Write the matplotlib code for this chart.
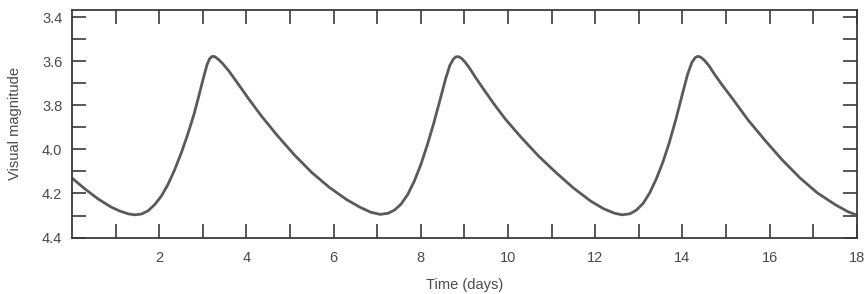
import matplotlib
matplotlib.use('Agg')
import matplotlib.pyplot as plt
import numpy as np

plt.rcParams['font.family'] = ['Liberation Sans', 'DejaVu Sans']

# light curve (time in days, visual magnitude)
days = [0.0, 0.3, 0.6, 0.9, 1.1, 1.3, 1.45, 1.6, 1.75, 1.9, 2.05, 2.2, 2.35, 2.5,
        2.65, 2.8, 2.92, 3.02, 3.1, 3.16, 3.22, 3.28, 3.36, 3.46, 3.6, 3.8,
        4.05, 4.35, 4.7, 5.1, 5.5, 5.9, 6.3, 6.6, 6.85, 7.07,
        7.25, 7.4, 7.55, 7.7, 7.85, 8.0, 8.15, 8.3, 8.45, 8.57, 8.67, 8.75, 8.81,
        8.87, 8.94, 9.02, 9.12, 9.26, 9.45, 9.7, 9.95, 10.3, 10.7, 11.1, 11.5,
        11.9, 12.2, 12.45, 12.62,
        12.8, 12.95, 13.1, 13.25, 13.4, 13.55, 13.7, 13.85, 14.0, 14.12, 14.22,
        14.3, 14.36, 14.42, 14.5, 14.6, 14.74, 14.92, 15.15, 15.5, 15.9, 16.3,
        16.7, 17.1, 17.5, 17.8, 18.0]
mag = [4.13, 4.18, 4.225, 4.262, 4.28, 4.293, 4.297, 4.293, 4.278, 4.25, 4.212, 4.16, 4.095, 4.02,
       3.935, 3.84, 3.75, 3.672, 3.615, 3.588, 3.578, 3.58, 3.592, 3.612, 3.645, 3.7,
       3.77, 3.85, 3.935, 4.025, 4.105, 4.172, 4.228, 4.262, 4.285, 4.295,
       4.29, 4.275, 4.248, 4.205, 4.145, 4.07, 3.98, 3.88, 3.77, 3.68, 3.618, 3.59, 3.58,
       3.58, 3.588, 3.605, 3.632, 3.675, 3.73, 3.8, 3.865, 3.945, 4.03, 4.105, 4.175,
       4.235, 4.27, 4.29, 4.297,
       4.292, 4.275, 4.245, 4.198, 4.135, 4.06, 3.97, 3.865, 3.75, 3.66, 3.605,
       3.583, 3.578, 3.582, 3.595, 3.618, 3.66, 3.71, 3.77, 3.865, 3.96, 4.05,
       4.13, 4.198, 4.25, 4.283, 4.298]

x_major = [2, 4, 6, 8, 10, 12, 14, 16, 18]
y_major = [3.4, 3.6, 3.8, 4.0, 4.2, 4.4]

ink = '#3a3a3a'
txt = '#4a4a4a'

fig = plt.figure(figsize=(8.64, 2.94), dpi=100)
ax = fig.add_axes([0.0833, 0.192, 0.9083, 0.774])

ax.plot(days, mag, color='#5a5a5a', linewidth=2.0, solid_capstyle='round',
        solid_joinstyle='round')

ax.set_xlim(0, 18)
ax.set_ylim(4.4, 3.368)

ax.set_xticks(x_major)
ax.set_xticks(np.arange(1, 18, 1), minor=True)
ax.set_yticks(y_major)
ax.set_yticks(np.arange(3.5, 4.4, 0.2), minor=True)
ax.set_yticklabels(['3.4', '3.6', '3.8', '4.0', '4.2', '4.4'])

ax.tick_params(which='both', direction='in', top=True, right=True,
               length=10, width=1.2, color=ink, labelcolor=txt, labelsize=10.5)
ax.tick_params(axis='x', which='major', pad=10)
ax.tick_params(axis='y', which='major', pad=7)

for s in ax.spines.values():
    s.set_color(ink)
    s.set_linewidth(1.3)

ax.set_xlabel('Time (days)', fontsize=10.5, color=txt, labelpad=9)
ax.set_ylabel('Visual magnitude', fontsize=10.5, color=txt, labelpad=14)

fig.savefig('out.png', dpi=100, facecolor='white')
